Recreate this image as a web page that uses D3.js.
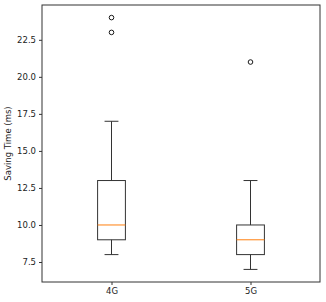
<!DOCTYPE html>
<html>
<head>
<meta charset="utf-8">
<script src="https://cdn.jsdelivr.net/npm/d3@7"></script>
<style>
  body { margin: 0; background: #fff; }
  text { font-family: "DejaVu Sans", sans-serif; }
</style>
</head>
<body>
<div id="chart"></div>
<script>
// box stats
const categories = ['4G', '5G'];
const whiskerLow = [8, 7];
const q1 = [9, 8];
const median = [10, 9];
const q3 = [13, 10];
const whiskerHigh = [17, 13];
const fliers = [[23, 24], [21]];
const yTicks = [7.5, 10.0, 12.5, 15.0, 17.5, 20.0, 22.5];

const width = 326, height = 302;
const margin = {top: 5, right: 6, bottom: 20, left: 42};

const svg = d3.select('#chart').append('svg')
  .attr('width', width)
  .attr('height', height);

const x = d3.scaleLinear().domain([0.5, 2.5]).range([margin.left, width - margin.right]);
const y = d3.scaleLinear().domain([6.15, 24.85]).range([height - margin.bottom, margin.top]);

const boxW = x(1.1) - x(0.9);
const capW = boxW / 2;
const ink = '#333';

const g = svg.append('g');

categories.forEach(function (c, i) {
  const cx = x(i + 1);
  // whiskers
  g.append('line')
    .attr('x1', cx).attr('x2', cx)
    .attr('y1', y(q3[i])).attr('y2', y(whiskerHigh[i]))
    .attr('stroke', ink).attr('stroke-width', 1);
  g.append('line')
    .attr('x1', cx).attr('x2', cx)
    .attr('y1', y(q1[i])).attr('y2', y(whiskerLow[i]))
    .attr('stroke', ink).attr('stroke-width', 1);
  // caps
  [whiskerHigh[i], whiskerLow[i]].forEach(function (v) {
    g.append('line')
      .attr('x1', cx - capW / 2).attr('x2', cx + capW / 2)
      .attr('y1', y(v)).attr('y2', y(v))
      .attr('stroke', ink).attr('stroke-width', 1);
  });
  // box
  g.append('rect')
    .attr('x', cx - boxW / 2)
    .attr('y', y(q3[i]))
    .attr('width', boxW)
    .attr('height', y(q1[i]) - y(q3[i]))
    .attr('fill', 'none')
    .attr('stroke', ink).attr('stroke-width', 1);
  // median
  g.append('line')
    .attr('x1', cx - boxW / 2).attr('x2', cx + boxW / 2)
    .attr('y1', y(median[i])).attr('y2', y(median[i]))
    .attr('stroke', '#ff7f0e').attr('stroke-width', 1);
  // fliers
  g.selectAll(null)
    .data(fliers[i])
    .enter().append('circle')
    .attr('cx', cx)
    .attr('cy', function (d) { return y(d); })
    .attr('r', 2.3)
    .attr('fill', 'none')
    .attr('stroke', '#000').attr('stroke-width', 0.9);
});

// axes
const yAxis = svg.append('g')
  .attr('transform', 'translate(' + margin.left + ',0)')
  .call(d3.axisLeft(y).tickValues(yTicks).tickFormat(d3.format('.1f')).tickSize(3).tickPadding(3));

const xAxis = svg.append('g')
  .attr('transform', 'translate(0,' + (height - margin.bottom) + ')')
  .call(d3.axisBottom(x).tickValues([1, 2]).tickFormat(function (d) { return categories[d - 1]; })
    .tickSize(3).tickPadding(3));

[yAxis, xAxis].forEach(function (a) {
  a.select('.domain').remove();
  a.selectAll('.tick line').attr('stroke', ink);
  a.selectAll('text').attr('font-size', 8.5).attr('fill', '#222')
    .style('font-family', '"DejaVu Sans", sans-serif');
});

// frame
svg.append('rect')
  .attr('x', margin.left)
  .attr('y', margin.top)
  .attr('width', width - margin.left - margin.right)
  .attr('height', height - margin.top - margin.bottom)
  .attr('fill', 'none')
  .attr('stroke', ink).attr('stroke-width', 1);

svg.append('text')
  .attr('transform', 'translate(11,' + ((margin.top + height - margin.bottom) / 2) + ') rotate(-90)')
  .attr('text-anchor', 'middle')
  .attr('font-size', 8.5)
  .attr('fill', '#222')
  .text('Saving Time (ms)');
</script>
</body>
</html>
